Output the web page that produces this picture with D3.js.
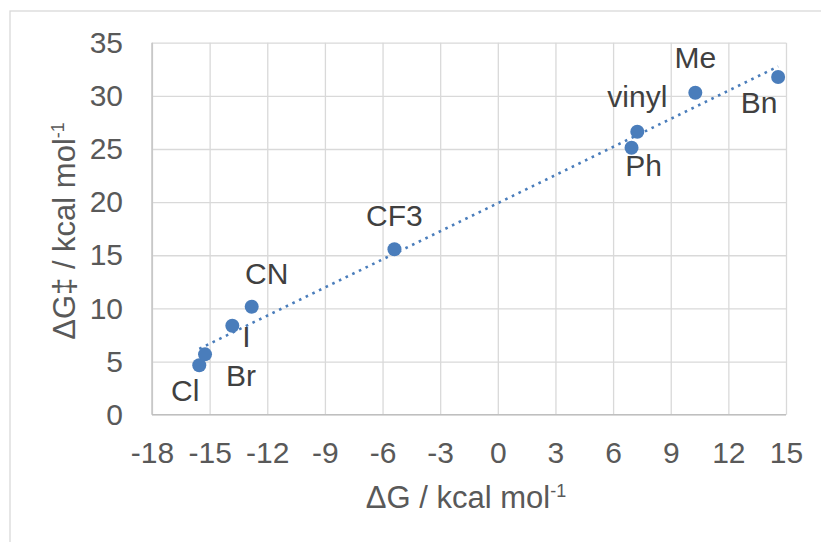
<!DOCTYPE html>
<html>
<head>
<meta charset="utf-8">
<script src="https://cdn.jsdelivr.net/npm/d3@7"></script>
<style>
  body { margin: 0; background: #fff; }
  svg { display: block; font-family: "Liberation Sans", Arial, sans-serif; }
</style>
</head>
<body>
<div id="chart"></div>
<script>
// substituents and their energies (kcal/mol)
const labels = ["Cl", "Br", "I", "CN", "CF3", "vinyl", "Ph", "Me", "Bn"];
const dG = [-15.54, -15.24, -13.82, -12.81, -5.38, 7.26, 6.96, 10.28, 14.59];
const dGts = [4.65, 5.68, 8.37, 10.16, 15.56, 26.62, 25.12, 30.29, 31.77];
const xTicks = [-18, -15, -12, -9, -6, -3, 0, 3, 6, 9, 12, 15];
const yTicks = [0, 5, 10, 15, 20, 25, 30, 35];

// where each data label sits relative to its point (Excel labels were dragged around)
const labelOffsets = {
  Cl: [-14, 25], Br: [36, 21], I: [14, 11], CN: [15, -33], CF3: [0, -34],
  vinyl: [0, -35], Ph: [12, 18], Me: [0, -35], Bn: [-19, 25]
};

const W = 821, H = 542;
const margins = {top: 42.7, right: 35, bottom: 127.3, left: 152};
const pointColor = "#4a7dbb";
const gridColor = "#d9d9d9";

const svg = d3.select("#chart").append("svg")
  .attr("width", W)
  .attr("height", H);

// outer chart frame, runs off the page on the right and bottom
svg.append("rect")
  .attr("x", 10).attr("y", 11)
  .attr("width", W).attr("height", H)
  .attr("fill", "none")
  .attr("stroke", gridColor)
  .attr("stroke-width", 1.3);

const x = d3.scaleLinear()
  .domain([-18, 15])
  .range([margins.left, W - margins.right]);
const y = d3.scaleLinear()
  .domain([0, 35])
  .range([H - margins.bottom, margins.top]);

const innerW = x.range()[1] - x.range()[0];
const innerH = y.range()[0] - y.range()[1];

// gridlines
svg.append("g")
  .attr("transform", `translate(0,${y(0)})`)
  .call(d3.axisBottom(x).tickValues(xTicks).tickSize(-innerH).tickFormat(""))
  .call(g => g.select(".domain").remove())
  .call(g => g.selectAll("line").attr("stroke", gridColor).attr("stroke-width", 1.3));
svg.append("g")
  .attr("transform", `translate(${x(-18)},0)`)
  .call(d3.axisLeft(y).tickValues(yTicks).tickSize(-innerW).tickFormat(""))
  .call(g => g.select(".domain").remove())
  .call(g => g.selectAll("line").attr("stroke", gridColor).attr("stroke-width", 1.3));

// axis lines (slightly darker than the grid)
svg.append("line")
  .attr("x1", x(-18)).attr("x2", x(15))
  .attr("y1", y(0)).attr("y2", y(0))
  .attr("stroke", "#bfbfbf").attr("stroke-width", 1.3);
svg.append("line")
  .attr("x1", x(-18)).attr("x2", x(-18))
  .attr("y1", y(0)).attr("y2", y(35))
  .attr("stroke", "#bfbfbf").attr("stroke-width", 1.3);

// tick labels - Excel uses a plain hyphen for negatives
svg.append("g")
  .attr("transform", `translate(0,${y(0)})`)
  .call(d3.axisBottom(x).tickValues(xTicks).tickSize(0).tickPadding(27).tickFormat(d => String(d)))
  .call(g => g.select(".domain").remove())
  .call(g => g.selectAll("text")
    .attr("font-size", 30)
    .attr("font-family", "Liberation Sans, Arial, sans-serif")
    .attr("fill", "#595959"));
svg.append("g")
  .attr("transform", `translate(${x(-18)},0)`)
  .call(d3.axisLeft(y).tickValues(yTicks).tickSize(0).tickPadding(29).tickFormat(d => String(d)))
  .call(g => g.select(".domain").remove())
  .call(g => g.selectAll("text")
    .attr("font-size", 30)
    .attr("font-family", "Liberation Sans, Arial, sans-serif")
    .attr("fill", "#595959"));

// axis titles with superscript -1
function axisTitle(sel, main) {
  sel.append("tspan").text(main);
  sel.append("tspan").attr("font-size", 18).attr("dy", -11).text("-1");
}
svg.append("text")
  .attr("x", 466).attr("y", 508)
  .attr("text-anchor", "middle")
  .attr("font-size", 31)
  .attr("fill", "#595959")
  .call(axisTitle, "\u0394G / kcal mol");
svg.append("text")
  .attr("transform", `translate(75,${231}) rotate(-90)`)
  .attr("text-anchor", "middle")
  .attr("font-size", 31)
  .attr("fill", "#595959")
  .call(axisTitle, "\u0394G\u2021 / kcal mol");

// linear trendline (least squares), from the smallest to the largest x
const mx = d3.mean(dG), my = d3.mean(dGts);
const sxy = d3.sum(dG, (v, i) => (v - mx) * (dGts[i] - my));
const sxx = d3.sum(dG, v => (v - mx) * (v - mx));
const slope = sxy / sxx, icpt = my - slope * mx;
const [xmin, xmax] = d3.extent(dG);

svg.append("line")
  .attr("x1", x(xmin)).attr("y1", y(slope * xmin + icpt))
  .attr("x2", x(xmax)).attr("y2", y(slope * xmax + icpt))
  .attr("stroke", pointColor)
  .attr("stroke-width", 2.6)
  .attr("stroke-dasharray", "2.6 4.8");

// points
svg.selectAll("circle.pt")
  .data(labels)
  .enter().append("circle")
    .attr("class", "pt")
    .attr("cx", (d, i) => x(dG[i]))
    .attr("cy", (d, i) => y(dGts[i]))
    .attr("r", 7)
    .attr("fill", pointColor);

// data labels
svg.selectAll("text.lbl")
  .data(labels)
  .enter().append("text")
    .attr("class", "lbl")
    .attr("x", (d, i) => x(dG[i]) + labelOffsets[d][0])
    .attr("y", (d, i) => y(dGts[i]) + labelOffsets[d][1])
    .attr("dy", "0.35em")
    .attr("text-anchor", "middle")
    .attr("font-size", 30)
    .attr("fill", "#404040")
    .text(d => d);
</script>
</body>
</html>
